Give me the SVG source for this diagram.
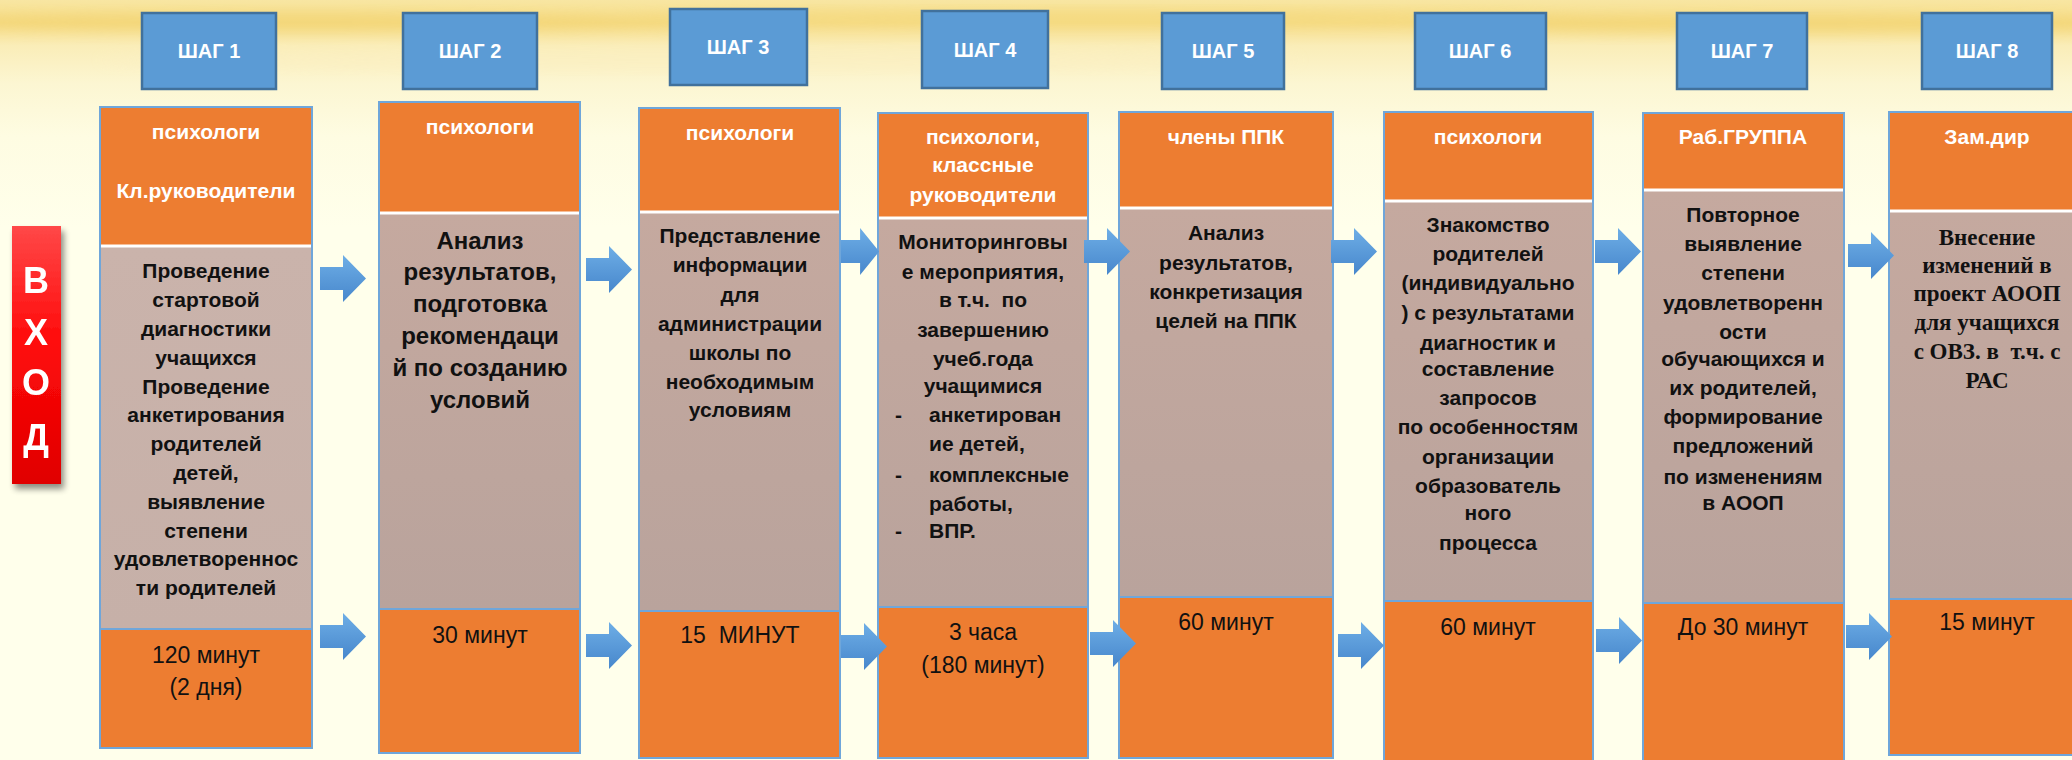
<svg xmlns="http://www.w3.org/2000/svg" width="2072" height="760" viewBox="0 0 2072 760">
<defs>
<linearGradient id="bg" x1="0" y1="0" x2="0" y2="1" gradientUnits="objectBoundingBox">
<stop offset="0" stop-color="#F8E6A2"/>
<stop offset="0.03" stop-color="#F6DC88"/>
<stop offset="0.06" stop-color="#FAEDB8"/>
<stop offset="0.11" stop-color="#FCF6D2"/>
<stop offset="0.18" stop-color="#FEFCE2"/>
<stop offset="0.3" stop-color="#FFFFEB"/>
<stop offset="1" stop-color="#FFFFEB"/>
</linearGradient>
<linearGradient id="body" x1="0" y1="0" x2="0" y2="1">
<stop offset="0" stop-color="#C5A99F"/>
<stop offset="1" stop-color="#B9A39C"/>
</linearGradient>
<linearGradient id="body1" x1="0" y1="0" x2="0" y2="1">
<stop offset="0" stop-color="#CAB3AB"/>
<stop offset="1" stop-color="#C6B0A8"/>
</linearGradient>
<linearGradient id="arr" x1="0" y1="0" x2="0" y2="1">
<stop offset="0" stop-color="#6EAEE6"/>
<stop offset="1" stop-color="#4787CC"/>
</linearGradient>
<linearGradient id="red" x1="0" y1="0" x2="0" y2="1">
<stop offset="0" stop-color="#FF4848"/>
<stop offset="0.45" stop-color="#FF0A0A"/>
<stop offset="1" stop-color="#E00000"/>
</linearGradient>
<filter id="sh" x="-30%" y="-10%" width="170%" height="130%">
<feGaussianBlur in="SourceAlpha" stdDeviation="3"/>
<feOffset dx="3" dy="5" result="o"/>
<feComponentTransfer><feFuncA type="linear" slope="0.45"/></feComponentTransfer>
<feMerge><feMergeNode/><feMergeNode in="SourceGraphic"/></feMerge>
</filter>
<filter id="blur"><feGaussianBlur stdDeviation="6"/></filter>
<path id="arrow" d="M0,12 H23 V0 L46,23.5 L23,47 V35 H0 Z"/>
</defs>
<style>
text{white-space:pre}
.step rect{fill:#5B9BD5;stroke:#41719C;stroke-width:2.5}
.step text{fill:#fff;font-family:"Liberation Sans",Arial,sans-serif;font-weight:bold;font-size:20px;text-anchor:middle}
.hd{fill:#ED7D31}
.bt{fill:#ED7D31}
.frame{fill:none;stroke:#6FA6DA;stroke-width:2}
.sep{stroke:#fff;stroke-width:3}
.sep2{stroke:#6FA6DA;stroke-width:2}
.ht{fill:#fff;font-family:"Liberation Sans",Arial,sans-serif;font-weight:bold;font-size:21px;text-anchor:middle}
.bd{fill:#111;font-family:"Liberation Sans",Arial,sans-serif;font-weight:bold;font-size:21px;text-anchor:middle}
.bd2{fill:#111;font-family:"Liberation Sans",Arial,sans-serif;font-weight:bold;font-size:24px;text-anchor:middle}
.bds{fill:#111;font-family:"Liberation Serif","Times New Roman",serif;font-weight:bold;font-size:23px;text-anchor:middle}
.tm{fill:#111;font-family:"Liberation Sans",Arial,sans-serif;font-size:23px;text-anchor:middle}
.vx{fill:#fff;font-family:"Liberation Sans",Arial,sans-serif;font-weight:bold;font-size:36px;text-anchor:middle}
.conn use{fill:url(#arr)}
</style>
<rect x="0" y="0" width="2072" height="760" fill="url(#bg)"/>
<g filter="url(#blur)" opacity="0.55">
<ellipse cx="300" cy="22" rx="420" ry="9" fill="#F2D36E"/>
<ellipse cx="1100" cy="18" rx="500" ry="8" fill="#F4D878"/>
<ellipse cx="1800" cy="24" rx="380" ry="9" fill="#F2D36E"/>
<ellipse cx="700" cy="60" rx="600" ry="10" fill="#FBEFC2"/>
</g>

<g id="vxod" filter="url(#sh)">
<rect x="12" y="226" width="49" height="258" fill="url(#red)"/>
<text class="vx" x="36" y="293">В</text>
<text class="vx" x="36" y="345">Х</text>
<text class="vx" x="36" y="395">О</text>
<text class="vx" x="36" y="450">Д</text>
</g>

<g id="step1" class="step"><rect x="142" y="13" width="134" height="76"/><text x="209" y="58">ШАГ 1</text></g>
<g id="step2" class="step"><rect x="403" y="13" width="134" height="76"/><text x="470" y="58">ШАГ 2</text></g>
<g id="step3" class="step"><rect x="670" y="9" width="137" height="76"/><text x="738" y="54">ШАГ 3</text></g>
<g id="step4" class="step"><rect x="922" y="11" width="126" height="77"/><text x="985" y="57">ШАГ 4</text></g>
<g id="step5" class="step"><rect x="1162" y="13" width="122" height="76"/><text x="1223" y="58">ШАГ 5</text></g>
<g id="step6" class="step"><rect x="1415" y="13" width="131" height="76"/><text x="1480" y="58">ШАГ 6</text></g>
<g id="step7" class="step"><rect x="1677" y="13" width="130" height="76"/><text x="1742" y="58">ШАГ 7</text></g>
<g id="step8" class="step"><rect x="1922" y="13" width="130" height="76"/><text x="1987" y="58">ШАГ 8</text></g>

<g id="col1">
<rect class="hd" x="100" y="107" width="212" height="139"/>
<rect x="100" y="246" width="212" height="383" fill="url(#body1)"/>
<rect class="bt" x="100" y="629" width="212" height="119"/>
<line class="sep" x1="100" y1="246" x2="312" y2="246"/>
<line class="sep2" x1="100" y1="629" x2="312" y2="629"/>
<rect class="frame" x="100" y="107" width="212" height="641"/>
<text class="ht" x="206" y="139">психологи</text>
<text class="ht" x="206" y="198">Кл.руководители</text>
<text class="bd" x="206" y="278">Проведение</text>
<text class="bd" x="206" y="307">стартовой</text>
<text class="bd" x="206" y="336">диагностики</text>
<text class="bd" x="206" y="365">учащихся</text>
<text class="bd" x="206" y="394">Проведение</text>
<text class="bd" x="206" y="422">анкетирования</text>
<text class="bd" x="206" y="451">родителей</text>
<text class="bd" x="206" y="480">детей,</text>
<text class="bd" x="206" y="509">выявление</text>
<text class="bd" x="206" y="538">степени</text>
<text class="bd" x="206" y="566">удовлетвореннос</text>
<text class="bd" x="206" y="595">ти родителей</text>
<text class="tm" x="206" y="663">120 минут</text>
<text class="tm" x="206" y="695">(2 дня)</text>
</g>

<g id="col2">
<rect class="hd" x="379" y="102" width="201" height="111"/>
<rect x="379" y="213" width="201" height="396" fill="url(#body)"/>
<rect class="bt" x="379" y="609" width="201" height="144"/>
<line class="sep" x1="379" y1="213" x2="580" y2="213"/>
<line class="sep2" x1="379" y1="609" x2="580" y2="609"/>
<rect class="frame" x="379" y="102" width="201" height="651"/>
<text class="ht" x="480" y="134">психологи</text>
<text class="bd2" x="480" y="249">Анализ</text>
<text class="bd2" x="480" y="280">результатов,</text>
<text class="bd2" x="480" y="312">подготовка</text>
<text class="bd2" x="480" y="344">рекомендаци</text>
<text class="bd2" x="480" y="376">й по созданию</text>
<text class="bd2" x="480" y="408">условий</text>
<text class="tm" x="480" y="643">30 минут</text>
</g>

<g id="col3">
<rect class="hd" x="639" y="108" width="201" height="104"/>
<rect x="639" y="212" width="201" height="399" fill="url(#body)"/>
<rect class="bt" x="639" y="611" width="201" height="147"/>
<line class="sep" x1="639" y1="212" x2="840" y2="212"/>
<line class="sep2" x1="639" y1="611" x2="840" y2="611"/>
<rect class="frame" x="639" y="108" width="201" height="650"/>
<text class="ht" x="740" y="140">психологи</text>
<text class="bd" x="740" y="243">Представление</text>
<text class="bd" x="740" y="272">информации</text>
<text class="bd" x="740" y="302">для</text>
<text class="bd" x="740" y="331">администрации</text>
<text class="bd" x="740" y="360">школы по</text>
<text class="bd" x="740" y="389">необходимым</text>
<text class="bd" x="740" y="417">условиям</text>
<text class="tm" x="740" y="643">15  МИНУТ</text>
</g>

<g id="col4">
<rect class="hd" x="878" y="113" width="210" height="105"/>
<rect x="878" y="218" width="210" height="389" fill="url(#body)"/>
<rect class="bt" x="878" y="607" width="210" height="151"/>
<line class="sep" x1="878" y1="218" x2="1088" y2="218"/>
<line class="sep2" x1="878" y1="607" x2="1088" y2="607"/>
<rect class="frame" x="878" y="113" width="210" height="645"/>
<text class="ht" x="983" y="144">психологи,</text>
<text class="ht" x="983" y="172">классные</text>
<text class="ht" x="983" y="202">руководители</text>
<text class="bd" x="983" y="249">Мониторинговы</text>
<text class="bd" x="983" y="279">е мероприятия,</text>
<text class="bd" x="983" y="307">в т.ч.  по</text>
<text class="bd" x="983" y="337">завершению</text>
<text class="bd" x="983" y="366">учеб.года</text>
<text class="bd" x="983" y="393">учащимися</text>
<text class="bd" x="895" y="422" style="text-anchor:start">-</text>
<text class="bd" x="929" y="422" style="text-anchor:start">анкетирован</text>
<text class="bd" x="929" y="451" style="text-anchor:start">ие детей,</text>
<text class="bd" x="895" y="482" style="text-anchor:start">-</text>
<text class="bd" x="929" y="482" style="text-anchor:start">комплексные</text>
<text class="bd" x="929" y="511" style="text-anchor:start">работы,</text>
<text class="bd" x="895" y="538" style="text-anchor:start">-</text>
<text class="bd" x="929" y="538" style="text-anchor:start">ВПР.</text>
<text class="tm" x="983" y="640">3 часа</text>
<text class="tm" x="983" y="673">(180 минут)</text>
</g>

<g id="col5">
<rect class="hd" x="1119" y="112" width="214" height="96"/>
<rect x="1119" y="208" width="214" height="389" fill="url(#body)"/>
<rect class="bt" x="1119" y="597" width="214" height="161"/>
<line class="sep" x1="1119" y1="208" x2="1333" y2="208"/>
<line class="sep2" x1="1119" y1="597" x2="1333" y2="597"/>
<rect class="frame" x="1119" y="112" width="214" height="646"/>
<text class="ht" x="1226" y="144">члены ППК</text>
<text class="bd" x="1226" y="240">Анализ</text>
<text class="bd" x="1226" y="270">результатов,</text>
<text class="bd" x="1226" y="299">конкретизация</text>
<text class="bd" x="1226" y="328">целей на ППК</text>
<text class="tm" x="1226" y="630">60 минут</text>
</g>

<g id="col6">
<rect class="hd" x="1384" y="112" width="209" height="89"/>
<rect x="1384" y="201" width="209" height="400" fill="url(#body)"/>
<rect class="bt" x="1384" y="601" width="209" height="161"/>
<line class="sep" x1="1384" y1="201" x2="1593" y2="201"/>
<line class="sep2" x1="1384" y1="601" x2="1593" y2="601"/>
<rect class="frame" x="1384" y="112" width="209" height="650"/>
<text class="ht" x="1488" y="144">психологи</text>
<text class="bd" x="1488" y="232">Знакомство</text>
<text class="bd" x="1488" y="261">родителей</text>
<text class="bd" x="1488" y="290">(индивидуально</text>
<text class="bd" x="1488" y="320">) с результатами</text>
<text class="bd" x="1488" y="350">диагностик и</text>
<text class="bd" x="1488" y="376">составление</text>
<text class="bd" x="1488" y="405">запросов</text>
<text class="bd" x="1488" y="434">по особенностям</text>
<text class="bd" x="1488" y="464">организации</text>
<text class="bd" x="1488" y="493">образователь</text>
<text class="bd" x="1488" y="520">ного</text>
<text class="bd" x="1488" y="550">процесса</text>
<text class="tm" x="1488" y="635">60 минут</text>
</g>

<g id="col7">
<rect class="hd" x="1643" y="113" width="201" height="77"/>
<rect x="1643" y="190" width="201" height="413" fill="url(#body)"/>
<rect class="bt" x="1643" y="603" width="201" height="159"/>
<line class="sep" x1="1643" y1="190" x2="1844" y2="190"/>
<line class="sep2" x1="1643" y1="603" x2="1844" y2="603"/>
<rect class="frame" x="1643" y="113" width="201" height="649"/>
<text class="ht" x="1743" y="144">Раб.ГРУППА</text>
<text class="bd" x="1743" y="222">Повторное</text>
<text class="bd" x="1743" y="251">выявление</text>
<text class="bd" x="1743" y="280">степени</text>
<text class="bd" x="1743" y="310">удовлетворенн</text>
<text class="bd" x="1743" y="339">ости</text>
<text class="bd" x="1743" y="366">обучающихся и</text>
<text class="bd" x="1743" y="395">их родителей,</text>
<text class="bd" x="1743" y="424">формирование</text>
<text class="bd" x="1743" y="453">предложений</text>
<text class="bd" x="1743" y="484">по изменениям</text>
<text class="bd" x="1743" y="510">в АООП</text>
<text class="tm" x="1743" y="635">До 30 минут</text>
</g>

<g id="col8">
<rect class="hd" x="1889" y="112" width="196" height="99"/>
<rect x="1889" y="211" width="196" height="388" fill="url(#body)"/>
<rect class="bt" x="1889" y="599" width="196" height="156"/>
<line class="sep" x1="1889" y1="211" x2="2085" y2="211"/>
<line class="sep2" x1="1889" y1="599" x2="2085" y2="599"/>
<rect class="frame" x="1889" y="112" width="196" height="643"/>
<text class="ht" x="1987" y="144">Зам.дир</text>
<text class="bds" x="1987" y="245">Внесение</text>
<text class="bds" x="1987" y="273">изменений в</text>
<text class="bds" x="1987" y="301">проект АООП</text>
<text class="bds" x="1987" y="330">для учащихся</text>
<text class="bds" x="1987" y="359">с ОВЗ. в  т.ч. с</text>
<text class="bds" x="1987" y="388">РАС</text>
<text class="tm" x="1987" y="630">15 минут</text>
</g>

<g id="connectors" class="conn">
<use href="#arrow" x="320" y="255"/>
<use href="#arrow" x="320" y="613"/>
<use href="#arrow" x="586" y="246"/>
<use href="#arrow" x="586" y="622"/>
<use href="#arrow" transform="translate(841,228) scale(0.83,1)"/>
<use href="#arrow" x="841" y="623"/>
<use href="#arrow" x="1084" y="228"/>
<use href="#arrow" x="1090" y="620"/>
<use href="#arrow" x="1331" y="228"/>
<use href="#arrow" x="1338" y="622"/>
<use href="#arrow" x="1595" y="228"/>
<use href="#arrow" x="1596" y="617"/>
<use href="#arrow" x="1848" y="232"/>
<use href="#arrow" x="1846" y="613"/>
</g>
</svg>
